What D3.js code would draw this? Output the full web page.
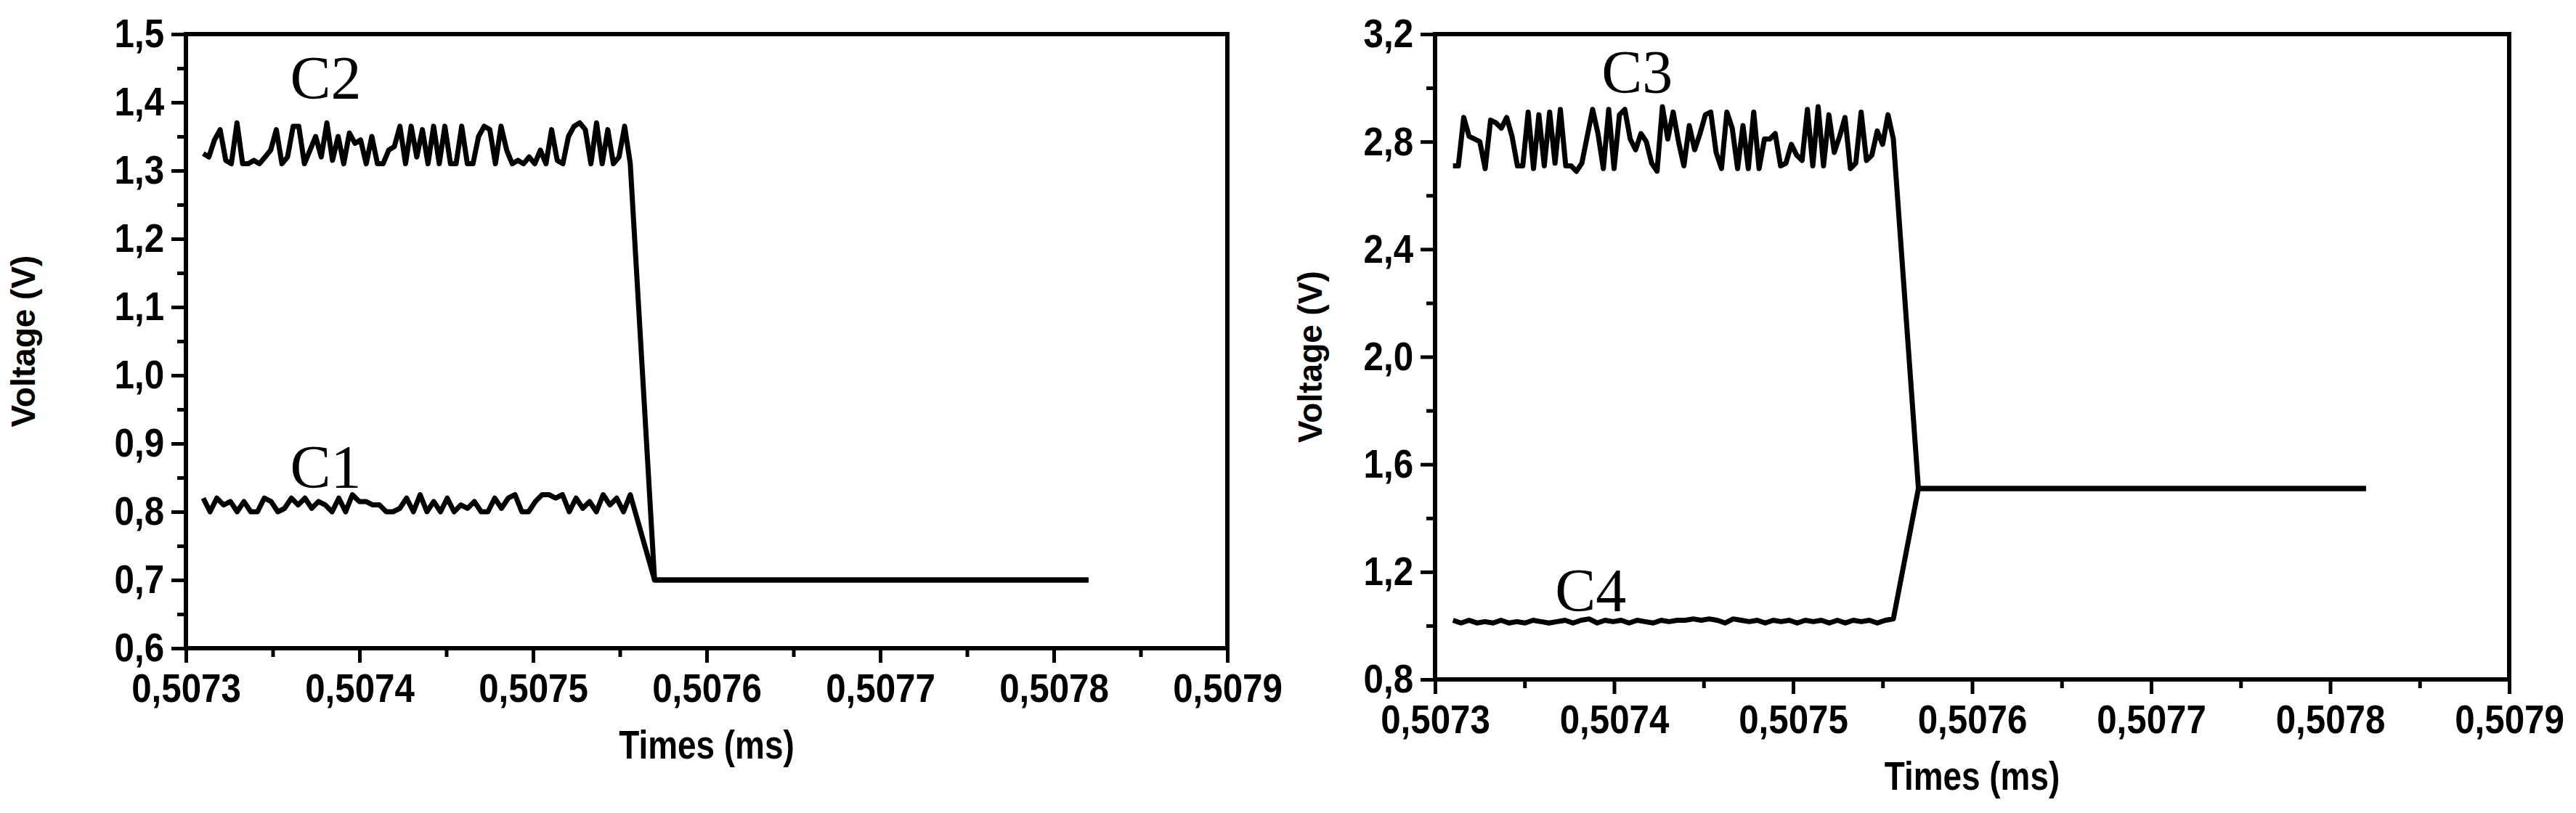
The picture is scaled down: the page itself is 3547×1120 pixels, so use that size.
<!DOCTYPE html>
<html>
<head>
<meta charset="utf-8">
<script src="https://cdn.jsdelivr.net/npm/d3@7"></script>
<style>
  body { margin: 0; background: #fff; }
  .tick text { font-family: "Liberation Sans", sans-serif; font-weight: bold; }
</style>
</head>
<body>
<div id="chart"></div>
<script>
// sample times: noisy part runs from T_START to T_EDGE, then the edge settles at T_SETTLE
const T_START = 0.50731, T_EDGE = 0.507556, T_SETTLE = 0.50757, T_END = 0.50782

const c2 = [1.325,1.32,1.345,1.36,1.315,1.31,1.37,1.31,1.31,1.315,1.31,1.32,1.33,1.36,1.31,1.32,1.365,1.365,1.31,1.33,
  1.35,1.32,1.37,1.315,1.35,1.31,1.355,1.34,1.345,1.31,1.35,1.31,1.31,1.33,1.335,1.365,1.31,1.365,1.32,1.36,
  1.31,1.365,1.31,1.365,1.31,1.31,1.365,1.31,1.31,1.35,1.365,1.36,1.31,1.365,1.33,1.31,1.315,1.31,1.32,1.31,
  1.33,1.31,1.36,1.315,1.31,1.35,1.365,1.37,1.36,1.31,1.37,1.31,1.36,1.31,1.32,1.365,1.31]
const c1 = [0.82,0.80,0.82,0.81,0.815,0.80,0.815,0.80,0.80,0.82,0.815,0.80,0.805,0.82,0.81,0.82,0.805,0.815,0.81,0.80,
  0.82,0.80,0.825,0.815,0.815,0.81,0.81,0.80,0.80,0.805,0.82,0.80,0.825,0.80,0.815,0.80,0.82,0.80,0.81,0.805,
  0.815,0.80,0.80,0.82,0.805,0.82,0.825,0.80,0.80,0.815,0.825,0.825,0.82,0.825,0.80,0.82,0.805,0.815,0.80,0.825,
  0.81,0.82,0.80,0.825]
const c3 = [2.71,2.71,2.89,2.82,2.81,2.80,2.70,2.88,2.87,2.85,2.89,2.82,2.71,2.71,2.91,2.70,2.90,2.71,2.91,2.72,
  2.92,2.71,2.71,2.69,2.72,2.82,2.92,2.83,2.70,2.92,2.70,2.90,2.92,2.81,2.77,2.83,2.80,2.72,2.69,2.93,2.81,2.91,
  2.80,2.71,2.86,2.77,2.83,2.90,2.91,2.76,2.70,2.91,2.85,2.70,2.86,2.70,2.91,2.70,2.81,2.81,2.83,2.71,2.72,
  2.79,2.75,2.73,2.92,2.71,2.93,2.71,2.90,2.76,2.82,2.89,2.70,2.72,2.91,2.73,2.75,2.84,2.79,2.90,2.81]
const c4 = [1.02,1.01,1.02,1.01,1.015,1.01,1.02,1.01,1.015,1.01,1.02,1.015,1.01,1.015,1.02,1.01,1.02,1.025,1.01,1.02,
  1.015,1.02,1.01,1.02,1.015,1.01,1.02,1.015,1.02,1.02,1.025,1.02,1.025,1.02,1.01,1.025,1.02,1.015,1.02,1.01,
  1.02,1.015,1.02,1.01,1.02,1.015,1.02,1.01,1.02,1.01,1.02,1.015,1.02,1.01,1.02,1.025]

const xTicks = [0.5073, 0.5074, 0.5075, 0.5076, 0.5077, 0.5078, 0.5079]
const panels = [
  { id: "left", series: [{ v: c2, end: 0.70 }, { v: c1, end: 0.70 }], yDomain: [0.6, 1.5], yTicks: d3.range(0.6, 1.501, 0.1), yMinor: 0.05, yDec: 1,
    labels: [{ t: "C2", x: 0.50736, y: 1.405 }, { t: "C1", x: 0.50736, y: 0.835 }],
    box: { l: 256, r: 1690, t: 47, b: 893 }, yTitleX: 36 },
  { id: "right", series: [{ v: c3, end: 1.51 }, { v: c4, end: 1.51 }], yDomain: [0.8, 3.2], yTicks: d3.range(0.8, 3.201, 0.4), yMinor: 0.2, yDec: 1,
    labels: [{ t: "C3", x: 0.507393, y: 2.98 }, { t: "C4", x: 0.507367, y: 1.055 }],
    box: { l: 1976, r: 3455, t: 47, b: 936 }, yTitleX: 1808 }
]

const svg = d3.select("#chart").append("svg").attr("width", 3547).attr("height", 1120)
const fmt = (dec) => (d) => d.toFixed(dec).replace(".", ",")
const NARROW = "scale(0.88,1)"

panels.forEach(p => {
  const b = p.box
  const x = d3.scaleLinear().domain([0.5073, 0.5079]).range([b.l, b.r])
  const y = d3.scaleLinear().domain(p.yDomain).range([b.b, b.t])

  const minorX = d3.range(0.50735, 0.5079, 0.0001)
  const minorY = d3.range(p.yDomain[0] + p.yMinor, p.yDomain[1], p.yMinor * 2)

  svg.append("g").attr("transform", `translate(0,${b.b})`)
    .call(d3.axisBottom(x).tickValues(minorX).tickSize(12).tickFormat(""))
    .call(g => g.select(".domain").remove())
    .selectAll("line").attr("stroke-width", 5)
  svg.append("g").attr("transform", `translate(${b.l},0)`)
    .call(d3.axisLeft(y).tickValues(minorY).tickSize(12).tickFormat(""))
    .call(g => g.select(".domain").remove())
    .selectAll("line").attr("stroke-width", 5)

  const xa = svg.append("g").attr("transform", `translate(0,${b.b})`)
    .call(d3.axisBottom(x).tickValues(xTicks).tickSize(20).tickPadding(14).tickFormat(fmt(4)))
  xa.select(".domain").remove()
  xa.selectAll("line").attr("stroke-width", 5)
  xa.selectAll("text").attr("font-size", 56).attr("transform", NARROW)

  const ya = svg.append("g").attr("transform", `translate(${b.l},0)`)
    .call(d3.axisLeft(y).tickValues(p.yTicks).tickSize(20).tickPadding(10).tickFormat(fmt(p.yDec)))
  ya.select(".domain").remove()
  ya.selectAll("line").attr("stroke-width", 5)
  ya.selectAll("text").attr("font-size", 56).attr("x", -34).attr("transform", NARROW)

  svg.append("rect").attr("x", b.l).attr("y", b.t).attr("width", b.r - b.l).attr("height", b.b - b.t)
    .attr("fill", "none").attr("stroke", "#000").attr("stroke-width", 6)

  const line = d3.line().x(d => x(d[0])).y(d => y(d[1]))
  p.series.forEach(s => {
    const step = (T_EDGE - T_START) / (s.v.length - 1)
    const pts = s.v.map((v, i) => [T_START + i * step, v])
    pts.push([T_SETTLE, s.end], [T_END, s.end])
    svg.append("path").datum(pts).attr("d", line)
      .attr("fill", "none").attr("stroke", "#000").attr("stroke-width", 7).attr("stroke-linejoin", "round")
  })

  p.labels.forEach(l => {
    svg.append("text").attr("x", x(l.x)).attr("y", y(l.y)).text(l.t)
      .attr("font-family", "Liberation Serif, serif").attr("font-size", 84)
  })

  svg.append("text").attr("transform", `translate(${(b.l + b.r) / 2},${b.b + 152}) scale(0.82,1)`)
    .attr("text-anchor", "middle")
    .attr("font-family", "Liberation Sans, sans-serif").attr("font-weight", "bold")
    .attr("font-size", 56).text("Times (ms)")
  svg.append("text").attr("transform", `translate(${p.yTitleX},${(b.t + b.b) / 2}) rotate(-90)`)
    .attr("text-anchor", "middle").attr("dominant-baseline", "middle")
    .attr("font-family", "Liberation Sans, sans-serif").attr("font-weight", "bold")
    .attr("font-size", 46).text("Voltage (V)")
})
</script>
</body>
</html>
